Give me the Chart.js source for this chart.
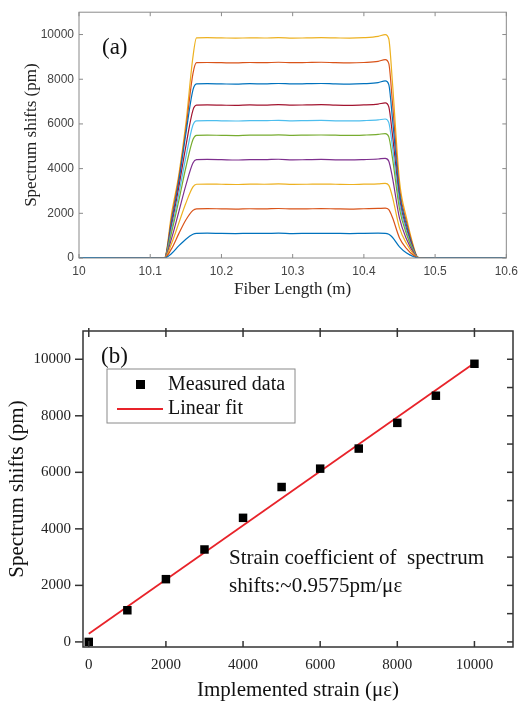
<!DOCTYPE html>
<html><head><meta charset="utf-8">
<script src="https://cdn.jsdelivr.net/npm/chart.js@4.4.0/dist/chart.umd.min.js"></script>
<style>
html,body{margin:0;padding:0;background:#fff;}
#wa{position:absolute;left:0;top:0;width:524px;height:300px;}
#wb{position:absolute;left:0;top:300px;width:524px;height:404px;}
</style></head><body>
<div id="wa"><canvas id="ca"></canvas></div>
<div id="wb"><canvas id="cb"></canvas></div>
<script>
// ---------- (a) spectrum shift vs fiber length ----------
const fiberLength = [10.00, 10.06, 10.12, 10.13, 10.14, 10.15, 10.16, 10.165, 10.18, 10.20, 10.22, 10.24, 10.26, 10.28, 10.30, 10.32, 10.34, 10.36, 10.38, 10.40, 10.42, 10.43, 10.435, 10.44, 10.45, 10.46, 10.47, 10.475, 10.48, 10.54, 10.60];
const shift1000 = [15, 10, 0, 200, 540, 840, 1060, 1100, 1110, 1100, 1095, 1105, 1100, 1110, 1095, 1100, 1105, 1100, 1095, 1105, 1110, 1105, 1060, 930, 500, 220, 55, 10, 0, 10, 5];
const shift2000 = [10, 15, 0, 420, 1080, 1700, 2130, 2200, 2210, 2200, 2190, 2205, 2200, 2215, 2195, 2200, 2210, 2200, 2190, 2205, 2220, 2230, 2160, 1820, 900, 420, 110, 15, 0, 5, 10];
const shift3000 = [20, 10, 0, 650, 1550, 2450, 3180, 3300, 3310, 3300, 3290, 3305, 3300, 3315, 3295, 3300, 3310, 3300, 3290, 3305, 3320, 3340, 3250, 2750, 1350, 640, 165, 20, 0, 10, 15];
const shift4000 = [10, 5, 0, 880, 2050, 3250, 4250, 4400, 4410, 4400, 4385, 4405, 4400, 4420, 4390, 4400, 4410, 4395, 4390, 4405, 4430, 4460, 4330, 3620, 1780, 840, 220, 25, 0, 15, 10];
const shift5000 = [15, 10, 0, 1150, 2550, 4050, 5300, 5490, 5500, 5490, 5480, 5500, 5495, 5510, 5490, 5500, 5505, 5495, 5485, 5500, 5530, 5570, 5420, 4500, 2200, 1050, 275, 30, 0, 10, 20];
const shift6000 = [20, 15, 0, 1300, 2850, 4500, 5950, 6140, 6150, 6140, 6130, 6150, 6145, 6160, 6140, 6150, 6155, 6140, 6135, 6150, 6180, 6220, 6060, 5020, 2450, 1170, 300, 35, 0, 20, 10];
const shift7000 = [10, 20, 0, 1450, 3150, 5000, 6620, 6840, 6850, 6840, 6830, 6850, 6840, 6860, 6840, 6850, 6860, 6840, 6830, 6850, 6890, 6940, 6760, 5550, 2650, 1280, 340, 40, 0, 15, 20];
const shift8000 = [15, 10, 0, 1650, 3400, 5550, 7520, 7790, 7800, 7790, 7780, 7800, 7790, 7810, 7790, 7800, 7810, 7790, 7780, 7800, 7850, 7930, 7760, 6280, 2900, 1450, 380, 45, 0, 10, 15];
const shift9000 = [20, 15, 0, 1800, 3550, 5750, 8250, 8740, 8750, 8740, 8730, 8750, 8740, 8760, 8740, 8750, 8760, 8740, 8730, 8750, 8800, 8880, 8700, 7000, 3100, 1600, 430, 50, 0, 20, 10];
const shift10000 = [10, 20, 0, 2000, 3700, 6000, 9000, 9850, 9860, 9850, 9840, 9850, 9845, 9860, 9840, 9850, 9860, 9850, 9840, 9860, 9920, 10000, 9800, 7900, 3450, 1770, 490, 55, 0, 15, 20];
const seriesA = [shift1000, shift2000, shift3000, shift4000, shift5000, shift6000, shift7000, shift8000, shift9000, shift10000];
const colorsA = ['#0072BD', '#D95319', '#EDB120', '#7E2F8E', '#77AC30', '#4DBEEE', '#A2142F', '#0072BD', '#D95319', '#EDB120'];
const xTicksA = [10, 10.1, 10.2, 10.3, 10.4, 10.5, 10.6];
const xTickLabelsA = ['10', '10.1', '10.2', '10.3', '10.4', '10.5', '10.6'];
const yTicksA = [0, 2000, 4000, 6000, 8000, 10000];
const yTickLabelsA = ['0', '2000', '4000', '6000', '8000', '10000'];

// ---------- (b) spectrum shift vs implemented strain ----------
const strain = [0, 1000, 2000, 3000, 4000, 5000, 6000, 7000, 8000, 9000, 10000];
const measured = [0, 1120, 2220, 3270, 4390, 5480, 6130, 6840, 7750, 8710, 9840];
const fitStrain = [0, 10000];
const fitShift = [290, 9865];
const xTicksB = [0, 2000, 4000, 6000, 8000, 10000];
const xTickLabelsB = ['0', '2000', '4000', '6000', '8000', '10000'];
const yTicksB = [0, 2000, 4000, 6000, 8000, 10000];
const yTickLabelsB = ['0', '2000', '4000', '6000', '8000', '10000'];
const yRightTicksB = [0, 1000, 2000, 3000, 4000, 5000, 6000, 7000, 8000, 9000, 10000];

const SERIF = "'Liberation Serif', 'Times New Roman', serif";
const SANS = "'Liberation Sans', Arial, sans-serif";

function framePlugin(cfg) {
  return {
    id: 'frame' + cfg.id,
    afterDraw(chart) {
      const { ctx, chartArea: a, scales } = chart;
      ctx.save();
      ctx.strokeStyle = cfg.color;
      ctx.lineWidth = cfg.width;
      ctx.strokeRect(a.left, a.top, a.right - a.left, a.bottom - a.top);
      for (const t of cfg.ticks) {
        for (const v of t.values) {
          ctx.beginPath();
          if (t.side === 'bottom' || t.side === 'top') {
            const px = scales.x.getPixelForValue(v);
            const y0 = t.side === 'bottom' ? a.bottom : a.top;
            const s = t.side === 'bottom' ? -1 : 1;
            ctx.moveTo(px, y0 - s * t.out);
            ctx.lineTo(px, y0 + s * t.inn);
          } else {
            const py = scales.y.getPixelForValue(v);
            const x0 = t.side === 'left' ? a.left : a.right;
            const s = t.side === 'left' ? 1 : -1;
            ctx.moveTo(x0 - s * t.out, py);
            ctx.lineTo(x0 + s * t.inn, py);
          }
          ctx.stroke();
        }
      }
      if (cfg.draw) cfg.draw(chart, ctx, a);
      ctx.restore();
    }
  };
}

new Chart(document.getElementById('ca'), {
  type: 'line',
  data: {
    datasets: seriesA.map((s, i) => ({
      data: fiberLength.map((x, j) => ({ x: x, y: s[j] })),
      borderColor: colorsA[i],
      borderWidth: 1.2,
      pointRadius: 0,
      cubicInterpolationMode: 'monotone',
      fill: false
    }))
  },
  options: {
    responsive: true, maintainAspectRatio: false, animation: false,
    layout: { padding: { left: 0, top: 10, right: 11, bottom: 0 } },
    plugins: { legend: { display: false }, tooltip: { enabled: false } },
    scales: {
      x: {
        type: 'linear', min: 10, max: 10.6,
        afterBuildTicks: s => { s.ticks = xTicksA.map(v => ({ value: v })); },
        afterFit: s => { s.height = 42; },
        grid: { display: false, drawTicks: false },
        border: { display: false },
        ticks: { padding: 6, color: '#444', font: { family: SANS, size: 12 }, maxRotation: 0, callback: (v, i) => xTickLabelsA[i] },
        title: { display: true, text: 'Fiber Length (m)', color: '#222', font: { family: SERIF, size: 17 }, padding: { top: 0, bottom: 0 } }
      },
      y: {
        type: 'linear', min: 0, max: 11000,
        afterBuildTicks: s => { s.ticks = yTicksA.map(v => ({ value: v })); },
        afterFit: s => { s.width = 79; },
        grid: { display: false, drawTicks: false },
        border: { display: false },
        ticks: { padding: 5, color: '#444', font: { family: SANS, size: 12 }, callback: (v, i) => yTickLabelsA[i] },
        title: { display: true, text: 'Spectrum shifts (pm)', color: '#222', font: { family: SERIF, size: 17 }, padding: { top: 21, bottom: 0 } }
      }
    }
  },
  plugins: [framePlugin({
    id: 'a', color: '#8a8a8a', width: 1,
    ticks: [
      { side: 'bottom', values: xTicksA, out: 0, inn: 4 },
      { side: 'top', values: xTicksA, out: 0, inn: 4 },
      { side: 'left', values: yTicksA, out: 0, inn: 4 },
      { side: 'right', values: yTicksA, out: 0, inn: 4 }
    ],
    draw(chart, ctx, a) {
      ctx.fillStyle = '#111';
      ctx.font = '23px ' + SERIF;
      ctx.textAlign = 'left';
      ctx.textBaseline = 'middle';
      ctx.fillText('(a)', a.left + 23, a.top + 36);
    }
  })]
});

new Chart(document.getElementById('cb'), {
  type: 'line',
  data: {
    datasets: [
      {
        label: 'Measured data',
        data: strain.map((x, j) => ({ x: x, y: measured[j] })),
        showLine: false,
        pointStyle: 'rect',
        pointRadius: 6,
        pointBackgroundColor: '#000',
        pointBorderColor: '#000',
        pointBorderWidth: 0,
        order: 0
      },
      {
        label: 'Linear fit',
        data: fitStrain.map((x, j) => ({ x: x, y: fitShift[j] })),
        borderColor: '#e8232a',
        borderWidth: 1.8,
        pointRadius: 0,
        fill: false,
        order: 1
      }
    ]
  },
  options: {
    responsive: true, maintainAspectRatio: false, animation: false,
    layout: { padding: { left: 0, top: 31, right: 11, bottom: 0 } },
    plugins: { legend: { display: false }, tooltip: { enabled: false } },
    scales: {
      x: {
        type: 'linear', min: -150, max: 11000,
        afterBuildTicks: s => { s.ticks = xTicksB.map(v => ({ value: v })); },
        afterFit: s => { s.height = 57; },
        grid: { display: false, drawTicks: false },
        border: { display: false },
        ticks: { padding: 9, color: '#222', font: { family: SERIF, size: 15 }, maxRotation: 0, callback: (v, i) => xTickLabelsB[i] },
        title: { display: true, text: 'Implemented strain (με)', color: '#111', font: { family: SERIF, size: 21 }, padding: { top: 0, bottom: 1 } }
      },
      y: {
        type: 'linear', min: -180, max: 11000,
        afterBuildTicks: s => { s.ticks = yTicksB.map(v => ({ value: v })); },
        afterFit: s => { s.width = 83; },
        grid: { display: false, drawTicks: false },
        border: { display: false },
        ticks: { padding: 12, color: '#222', font: { family: SERIF, size: 15 }, callback: (v, i) => yTickLabelsB[i] },
        title: { display: true, text: 'Spectrum shifts (pm)', color: '#111', font: { family: SERIF, size: 21 }, padding: { top: 5, bottom: 0 } }
      }
    }
  },
  plugins: [framePlugin({
    id: 'b', color: '#333', width: 1.5,
    ticks: [
      { side: 'bottom', values: xTicksB, out: 0, inn: 6 },
      { side: 'top', values: xTicksB, out: 3, inn: 6 },
      { side: 'left', values: yTicksB, out: 8, inn: 0 },
      { side: 'right', values: yRightTicksB, out: 0, inn: 6 }
    ],
    draw(chart, ctx, a) {
      ctx.fillStyle = '#111';
      ctx.textAlign = 'left';
      ctx.textBaseline = 'middle';
      ctx.font = '23px ' + SERIF;
      ctx.fillText('(b)', a.left + 18, a.top + 26);
      // legend box
      const bx = a.left + 24, by = a.top + 38, bw = 188, bh = 54;
      ctx.strokeStyle = '#8a8a8a';
      ctx.lineWidth = 1;
      ctx.strokeRect(bx, by, bw, bh);
      ctx.fillStyle = '#000';
      ctx.fillRect(bx + 29, by + 11, 9, 9);
      ctx.strokeStyle = '#e8232a';
      ctx.lineWidth = 1.8;
      ctx.beginPath();
      ctx.moveTo(bx + 10, by + 40);
      ctx.lineTo(bx + 56, by + 40);
      ctx.stroke();
      ctx.fillStyle = '#111';
      ctx.font = '20px ' + SERIF;
      ctx.fillText('Measured data', bx + 61, by + 16);
      ctx.fillText('Linear fit', bx + 61, by + 40);
      // annotation
      ctx.font = '21px ' + SERIF;
      ctx.fillText('Strain coefficient of  spectrum', a.left + 146, a.top + 227);
      ctx.fillText('shifts:~0.9575pm/με', a.left + 146, a.top + 255);
    }
  })]
});
</script>
</body></html>
